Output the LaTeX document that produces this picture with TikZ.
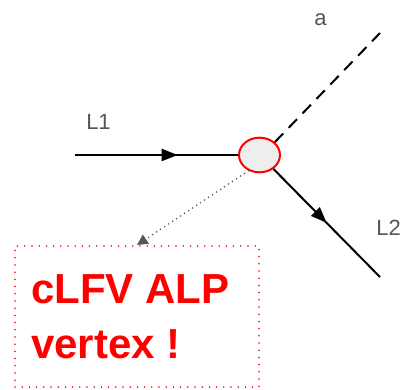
\documentclass[tikz,border=0pt]{standalone}
\usepackage{fontspec}
\setmainfont{Liberation Sans}
\usetikzlibrary{decorations.markings,arrows.meta,shapes.geometric}
\definecolor{lbl}{HTML}{555555}
\definecolor{vfill}{HTML}{EEEEEE}
\tikzset{
  fermion/.style={line width=1.5pt,black,
    postaction={decorate},
    decoration={markings,mark=at position #1 with {\arrow{Triangle[length=12pt,width=9pt]}}}},
  scalarline/.style={line width=1.5pt,black,dash pattern=on 9pt off 6pt},
  vertexnode/.style={ellipse,draw=red,line width=1.5pt,fill=vfill,minimum width=30.75pt,minimum height=26pt,inner sep=0pt},
  lbltext/.style={text=lbl,font=\fontsize{16.5}{19}\selectfont,inner sep=0pt},
  calloutbox/.style={draw=red,line width=1.3pt,dash pattern=on 0pt off 5.4pt,line cap=round,minimum width=183pt,minimum height=105.75pt},
  pointer/.style={lbl,line width=1.3pt,dash pattern=on 0pt off 3.6pt,line cap=round,-{Triangle[length=8pt,width=8pt,line cap=butt]}},
  bigred/.style={text=red,font=\bfseries\fontsize{31.5}{38}\selectfont,inner sep=0pt,anchor=base west}
}
\begin{document}
\begin{tikzpicture}[x=0.75pt,y=-0.75pt]
\useasboundingbox (0,0) rectangle (403,389);
\node[vertexnode] (v) at (259.5,155) {};
\coordinate (l1s) at (75,155);
\coordinate (l2e) at (380,277);
\coordinate (ae) at (380,33);
\coordinate (tip) at (137,245);
\draw[fermion=0.63] (l1s) -- (v.west);
\draw[fermion=0.5] (v.-45) -- (l2e);
\draw[scalarline] (v.40) -- (ae);
\node[calloutbox] (box) at (137,316.5) {};
\draw[pointer] (v.-125) -- (tip);
\node[lbltext,anchor=base west] (L1) at (86,129) {L1};
\node[lbltext,anchor=base west] (L2) at (376,235) {L2};
\node[lbltext,anchor=base west] (a) at (314,25) {a};
\node[bigred] (t1) at (31,303) {cLFV ALP};
\node[bigred] (t2) at (31,358) {vertex !};
\end{tikzpicture}
\end{document}
